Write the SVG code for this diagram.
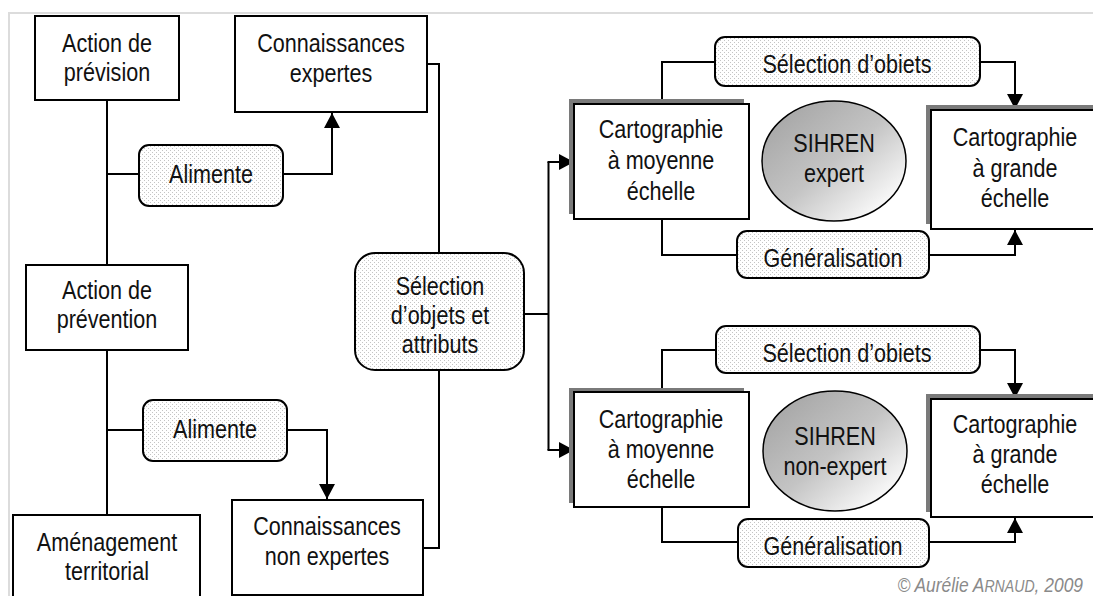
<svg xmlns="http://www.w3.org/2000/svg" width="1093" height="596" viewBox="0 0 1093 596">
<style>
.t{font-family:"Liberation Sans",Arial,sans-serif;font-size:26px;text-anchor:middle;fill:#111}
.box{fill:#fff;stroke:#000;stroke-width:2}
.lab{fill:url(#dots);stroke:#000;stroke-width:2}
.sh{fill:#7a7a7a}
.ell{fill:url(#eg);stroke:#000;stroke-width:1.5}
.c{fill:none;stroke:#000;stroke-width:2}
.ca{fill:none;stroke:#000;stroke-width:2;marker-end:url(#arr)}
.copy{font-family:"Liberation Sans",Arial,sans-serif;font-size:21px;font-style:italic;fill:#8a8a8a;text-anchor:end}
</style>
<defs>
<pattern id="dots" width="4" height="4" patternUnits="userSpaceOnUse">
<rect width="4" height="4" fill="#fff"/>
<rect x="0" y="0" width="1" height="1" fill="#c4c4c4"/>
<rect x="2" y="2" width="1" height="1" fill="#c4c4c4"/>
</pattern>
<linearGradient id="eg" x1="0.1" y1="0.1" x2="0.9" y2="0.9">
<stop offset="0" stop-color="#a6a6a6"/>
<stop offset="0.5" stop-color="#c4c4c4"/>
<stop offset="1" stop-color="#ffffff"/>
</linearGradient>
<marker id="arr" viewBox="0 0 15 16" refX="15" refY="8" markerWidth="15" markerHeight="16" markerUnits="userSpaceOnUse" orient="auto">
<path d="M0,0 L15,8 L0,16 z" fill="#000"/>
</marker>
</defs>
<rect width="1093" height="596" fill="#fff"/>
<path d="M9,596 V13 H1093" fill="none" stroke="#dcdcdc" stroke-width="2"/>

<g id="connectors">
<path class="c" d="M107,100 V265"/>
<path class="c" d="M107,174 H139"/>
<path class="ca" d="M283,174 H332 V113"/>
<path class="c" d="M427,64 H439 V253"/>
<path class="c" d="M107,350 V515"/>
<path class="c" d="M107,430 H143"/>
<path class="ca" d="M287,430 H327 V499"/>
<path class="c" d="M423,548 H439 V371"/>
<path class="c" d="M524,314 H548.5"/>
<path class="c" d="M548.5,162 V450"/>
<path class="ca" d="M547.5,162 H574"/>
<path class="ca" d="M547.5,450 H574"/>
<path class="c" d="M662,104 V62 H715"/>
<path class="ca" d="M980,62 H1015 V109"/>
<path class="c" d="M662,219 V255 H737"/>
<path class="ca" d="M929,255 H1015 V230"/>
<path class="c" d="M662,392 V350 H716"/>
<path class="ca" d="M980,350 H1015 V398"/>
<path class="c" d="M662,507 V542 H738"/>
<path class="ca" d="M929,542 H1015 V518"/>
</g>

<g id="action-prevision">
<rect class="box" x="35" y="16" width="144" height="84"/>
<text class="t" transform="translate(107,52) scale(0.83,1)">Action de</text>
<text class="t" transform="translate(107,81) scale(0.83,1)">prévision</text>
</g>
<g id="connaissances-expertes">
<rect class="box" x="235" y="16" width="192" height="96"/>
<text class="t" transform="translate(331,52) scale(0.83,1)">Connaissances</text>
<text class="t" transform="translate(331,82) scale(0.83,1)">expertes</text>
</g>
<g id="alimente-1">
<rect class="lab" x="139" y="145" width="144" height="61" rx="10"/>
<text class="t" transform="translate(211,183) scale(0.83,1)">Alimente</text>
</g>
<g id="action-prevention">
<rect class="box" x="26" y="265" width="162" height="85"/>
<text class="t" transform="translate(107,299) scale(0.83,1)">Action de</text>
<text class="t" transform="translate(107,328) scale(0.83,1)">prévention</text>
</g>
<g id="alimente-2">
<rect class="lab" x="143" y="400" width="144" height="61" rx="10"/>
<text class="t" transform="translate(215,438) scale(0.83,1)">Alimente</text>
</g>
<g id="amenagement">
<rect class="box" x="13" y="515" width="187" height="90"/>
<text class="t" transform="translate(107,551) scale(0.83,1)">Aménagement</text>
<text class="t" transform="translate(107,580) scale(0.83,1)">territorial</text>
</g>
<g id="connaissances-non-expertes">
<rect class="box" x="232" y="500" width="191" height="95"/>
<text class="t" transform="translate(327,535) scale(0.83,1)">Connaissances</text>
<text class="t" transform="translate(327,565) scale(0.83,1)">non expertes</text>
</g>
<g id="selection-objets-attributs">
<rect class="lab" x="355" y="253" width="169" height="117" rx="20"/>
<text class="t" transform="translate(440,295) scale(0.83,1)">Sélection</text>
<text class="t" transform="translate(440,324) scale(0.83,1)">d’objets et</text>
<text class="t" transform="translate(440,353) scale(0.83,1)">attributs</text>
</g>

<g id="carto-moyenne-1">
<rect class="sh" x="569" y="99" width="175" height="115"/>
<rect class="box" x="574" y="104" width="175" height="115"/>
<text class="t" transform="translate(661,138) scale(0.83,1)">Cartographie</text>
<text class="t" transform="translate(661,169) scale(0.83,1)">à moyenne</text>
<text class="t" transform="translate(661,200) scale(0.83,1)">échelle</text>
</g>
<g id="sihren-expert">
<ellipse class="ell" cx="834" cy="161" rx="72" ry="60"/>
<text class="t" transform="translate(834,152) scale(0.83,1)">SIHREN</text>
<text class="t" transform="translate(834,182) scale(0.83,1)">expert</text>
</g>
<g id="carto-grande-1">
<rect class="sh" x="926" y="105" width="175" height="119"/>
<rect class="box" x="931" y="110" width="175" height="119"/>
<text class="t" transform="translate(1015,146) scale(0.83,1)">Cartographie</text>
<text class="t" transform="translate(1015,177) scale(0.83,1)">à grande</text>
<text class="t" transform="translate(1015,207) scale(0.83,1)">échelle</text>
</g>
<g id="selection-objets-1">
<rect class="lab" x="715" y="37" width="265" height="49" rx="10"/>
<text class="t" transform="translate(847,73) scale(0.83,1)">Sélection d’obiets</text>
</g>
<g id="generalisation-1">
<rect class="lab" x="737" y="231" width="192" height="47" rx="10"/>
<text class="t" transform="translate(833,267) scale(0.83,1)">Généralisation</text>
</g>

<g id="carto-moyenne-2">
<rect class="sh" x="569" y="388" width="175" height="115"/>
<rect class="box" x="574" y="392" width="175" height="115"/>
<text class="t" transform="translate(661,428) scale(0.83,1)">Cartographie</text>
<text class="t" transform="translate(661,458) scale(0.83,1)">à moyenne</text>
<text class="t" transform="translate(661,488) scale(0.83,1)">échelle</text>
</g>
<g id="sihren-non-expert">
<ellipse class="ell" cx="835" cy="451" rx="72" ry="60"/>
<text class="t" transform="translate(835,445) scale(0.83,1)">SIHREN</text>
<text class="t" transform="translate(835,475) scale(0.83,1)">non-expert</text>
</g>
<g id="carto-grande-2">
<rect class="sh" x="926" y="394" width="175" height="118"/>
<rect class="box" x="931" y="399" width="175" height="118"/>
<text class="t" transform="translate(1015,433) scale(0.83,1)">Cartographie</text>
<text class="t" transform="translate(1015,463) scale(0.83,1)">à grande</text>
<text class="t" transform="translate(1015,493) scale(0.83,1)">échelle</text>
</g>
<g id="selection-objets-2">
<rect class="lab" x="716" y="326" width="264" height="47" rx="10"/>
<text class="t" transform="translate(847,362) scale(0.83,1)">Sélection d’obiets</text>
</g>
<g id="generalisation-2">
<rect class="lab" x="738" y="519" width="191" height="48" rx="10"/>
<text class="t" transform="translate(833,555) scale(0.83,1)">Généralisation</text>
</g>

<text class="copy" transform="translate(1083,592) scale(0.83,1)">© Aurélie A<tspan font-size="17px">RNAUD</tspan>, 2009</text>
</svg>
